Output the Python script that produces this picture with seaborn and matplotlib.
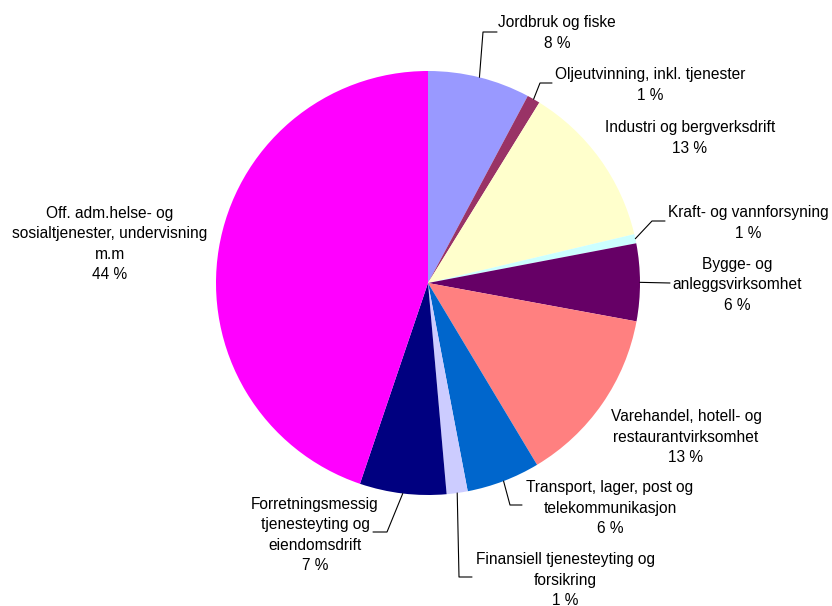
import numpy as np
import matplotlib
matplotlib.use("Agg")
import matplotlib.pyplot as plt
import seaborn as sns

categories = [
    "Jordbruk og fiske",
    "Oljeutvinning, inkl. tjenester",
    "Industri og bergverksdrift",
    "Kraft- og vannforsyning",
    "Bygge- og\nanleggsvirksomhet",
    "Varehandel, hotell- og\nrestaurantvirksomhet",
    "Transport, lager, post og\ntelekommunikasjon",
    "Finansiell tjenesteyting og\nforsikring",
    "Forretningsmessig\ntjenesteyting og\neiendomsdrift",
    "Off. adm.helse- og\nsosialtjenester, undervisning\nm.m",
]
values = [7.8, 1.0, 12.5, 0.7, 5.9, 13.5, 5.6, 1.6, 6.6, 44.8]
pct_labels = ["8 %", "1 %", "13 %", "1 %", "6 %", "13 %", "6 %", "1 %", "7 %", "44 %"]
colors = ["#9999FF", "#993366", "#FFFFCC", "#CCFFFF", "#660066",
          "#FF8080", "#0066CC", "#CCCCFF", "#000080", "#FF00FF"]

sns.set_theme(style="white")
plt.rcParams['font.family'] = ['Liberation Sans', 'DejaVu Sans']

W, H = 832, 606
CX, CY, R = 428, 283, 212
fig = plt.figure(figsize=(W / 100, H / 100), dpi=100)
ax = fig.add_axes([0, 0, 1, 1])

wedges, _ = ax.pie(values, colors=colors, startangle=90, counterclock=False,
                   radius=1, center=(0, 0), wedgeprops=dict(linewidth=0))
ax.set_xlim(-CX / R, (W - CX) / R)
ax.set_ylim(-(H - CY) / R, CY / R)
ax.set_aspect("auto")
ax.axis("off")

def d(px, py):
    return ((px - CX) / R, (CY - py) / R)

# layout: text centre (px), leader elbow and end (px) or None
layout = [
    ((557, 33), [(483, 32), (497, 32)]),
    ((650, 85), [(540, 83), (552, 83)]),
    ((690, 138), None),
    ((748, 223), [(652, 221), (665, 221)]),
    ((737, 285), [(670, 283)]),
    ((686, 437), None),
    ((610, 508), [(510, 505), (522, 505)]),
    ((565, 580), [(459, 577), (472, 577)]),
    ((315, 535), [(387, 532), (373, 532)]),
    ((110, 244), None),
]

for w, cat, pct, (tpos, leader) in zip(wedges, categories, pct_labels, layout):
    tx, ty = d(*tpos)
    ax.text(tx, ty, cat + "\n" + pct, ha="center", va="center",
            fontsize=11.2, color="black", linespacing=1.42)
    if leader:
        ang = np.deg2rad((w.theta1 + w.theta2) / 2)
        pts = [(np.cos(ang), np.sin(ang))] + [d(*p) for p in leader]
        xs, ys = zip(*pts)
        ax.plot(xs, ys, color="black", linewidth=0.8)

fig.savefig("out.png", dpi=100, facecolor="white")
